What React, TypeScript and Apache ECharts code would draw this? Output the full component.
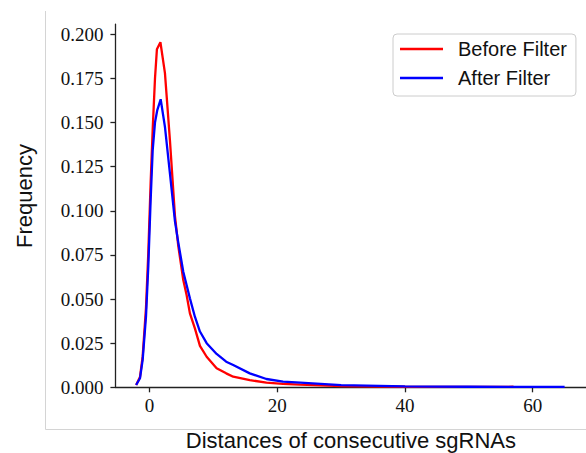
import React, { useEffect, useRef } from "react";
import * as echarts from "echarts";

const seriesNames = ["Before Filter", "After Filter"];

const beforeX = [-2.1, -1.5, -1.08, -0.56, -0.2, 0.17, 0.49, 0.85, 1.15, 1.7, 2.41, 3.19, 3.98, 4.5, 5.28, 5.8, 6.32, 7.1, 7.89, 8.94, 10.5, 12, 13.1, 15.7, 18.3, 20.9, 23.6, 30, 40, 50, 56, 57];
const beforeY = [0.0013, 0.0058, 0.0175, 0.045, 0.076, 0.116, 0.146, 0.175, 0.1915, 0.1955, 0.178, 0.14, 0.097, 0.08, 0.0608, 0.0523, 0.0419, 0.0334, 0.0235, 0.0173, 0.0108, 0.0079, 0.006, 0.0041, 0.0026, 0.0019, 0.0015, 0.0007, 0.0003, 0.0002, 0.0002, 0.0004];

const afterX = [-2.1, -1.5, -1.08, -0.56, -0.2, 0.17, 0.49, 0.85, 1.21, 1.74, 2.41, 3.19, 3.98, 4.5, 5.28, 5.8, 6.32, 7.1, 7.89, 8.94, 10.5, 12, 13.1, 15.7, 18.3, 20.9, 23.6, 30, 40, 50, 60, 65];
const afterY = [0.0013, 0.0051, 0.0155, 0.04, 0.0683, 0.1061, 0.1344, 0.15, 0.1571, 0.1632, 0.1476, 0.1212, 0.094, 0.082, 0.0655, 0.058, 0.0504, 0.04, 0.0316, 0.025, 0.0189, 0.0145, 0.0126, 0.0079, 0.0047, 0.0032, 0.0026, 0.0012, 0.0005, 0.0003, 0.0002, 0.0002];

const xTicks = [0, 20, 40, 60];
const yTicks = [0, 0.025, 0.05, 0.075, 0.1, 0.125, 0.15, 0.175, 0.2];

const xTitle = "Distances of consecutive sgRNAs";
const yTitle = "Frequency";

export default function App() {
  const ref = useRef<HTMLDivElement>(null);
  useEffect(() => {
    if (!ref.current) return;
    const chart = echarts.init(ref.current, undefined, { renderer: "svg" });
    const axisColor = "#222";
    const tickFont = { fontFamily: "Liberation Serif", fontSize: 19, color: "#111" };
    chart.setOption({
      animation: false,
      backgroundColor: "#fff",
      grid: { left: 115.4, right: 0, top: 24.1, bottom: 65.7 },
      xAxis: {
        type: "value",
        min: -5.35,
        max: 68.35,
        axisLine: { show: true, onZero: false, lineStyle: { color: axisColor, width: 1.3 } },
        axisTick: { show: true, customValues: xTicks, length: 5, lineStyle: { color: axisColor, width: 1.3 } },
        axisLabel: { customValues: xTicks, margin: 9, ...tickFont },
        splitLine: { show: false },
      },
      yAxis: {
        type: "value",
        min: 0,
        max: 0.2058,
        axisLine: { show: true, onZero: false, lineStyle: { color: axisColor, width: 1.3 } },
        axisTick: { show: true, customValues: yTicks, length: 5, lineStyle: { color: axisColor, width: 1.3 } },
        axisLabel: { customValues: yTicks, margin: 12, formatter: (v: number) => v.toFixed(3), ...tickFont },
        splitLine: { show: false },
      },
      legend: {
        orient: "vertical",
        left: 393,
        top: 34,
        padding: [5, 9, 8, 7],
        itemGap: 9,
        itemWidth: 43,
        itemHeight: 2.5,
        icon: "rect",
        data: seriesNames,
        textStyle: { fontFamily: "Liberation Sans", fontSize: 20, color: "#111", padding: [0, 0, 0, 10] },
        borderColor: "#cccccc",
        borderWidth: 1,
        borderRadius: 4,
        backgroundColor: "#fff",
      },
      series: [
        {
          name: seriesNames[0],
          type: "line",
          data: beforeX.map((x, i) => [x, beforeY[i]]),
          showSymbol: false,
          symbol: "none",
          color: "#ff0000",
          lineStyle: { color: "#ff0000", width: 2.3 },
        },
        {
          name: seriesNames[1],
          type: "line",
          data: afterX.map((x, i) => [x, afterY[i]]),
          showSymbol: false,
          symbol: "none",
          color: "#0000ff",
          lineStyle: { color: "#0000ff", width: 2.3 },
        },
      ],
      graphic: [
        { type: "line", shape: { x1: 45.5, y1: 11, x2: 45.5, y2: 429.5 }, style: { stroke: "#d4d4d4", lineWidth: 1 } },
        { type: "line", shape: { x1: 45.5, y1: 429.5, x2: 586, y2: 429.5 }, style: { stroke: "#d4d4d4", lineWidth: 1 } },
        {
          type: "text",
          x: 350.9,
          y: 440.7,
          style: { text: xTitle, fontFamily: "Liberation Sans", fontSize: 22, fill: "#111", align: "center", verticalAlign: "middle" },
        },
        {
          type: "text",
          x: 24,
          y: 196,
          rotation: Math.PI / 2,
          style: { text: yTitle, fontFamily: "Liberation Sans", fontSize: 22, fill: "#111", align: "center", verticalAlign: "middle" },
        },
      ],
    });
    return () => chart.dispose();
  }, []);
  return (
    <div
      ref={ref}
      style={{ position: "fixed", left: 0, top: 0, width: 586, height: 453, background: "#fff" }}
    />
  );
}
